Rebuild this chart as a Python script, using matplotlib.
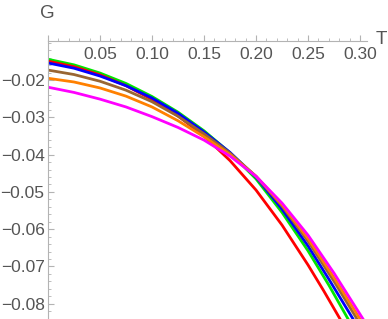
import matplotlib
matplotlib.use("Agg")
import matplotlib.pyplot as plt
from matplotlib.ticker import MultipleLocator, FuncFormatter, FixedLocator

# values (G vs T)
T_green = [0.0, 0.025, 0.05, 0.075, 0.10, 0.125, 0.15, 0.175, 0.20, 0.225, 0.25, 0.27, 0.2885]
G_green = [-0.0144, -0.0159, -0.0181, -0.0209, -0.0244, -0.0286, -0.0336, -0.0395,
           -0.0465, -0.0555, -0.0658, -0.0750, -0.0841]

T_red = [0.0, 0.025, 0.05, 0.075, 0.10, 0.125, 0.15, 0.175, 0.20, 0.225, 0.25, 0.265, 0.2808]
G_red = [-0.0149, -0.0164, -0.0186, -0.0215, -0.0252, -0.0296, -0.0350, -0.0416,
         -0.0495, -0.0589, -0.0696, -0.0765, -0.0841]

T_blue = [0.0, 0.025, 0.05, 0.075, 0.10, 0.125, 0.15, 0.175, 0.20, 0.225, 0.25, 0.27, 0.2933]
G_blue = [-0.0154, -0.0168, -0.0189, -0.0215, -0.0248, -0.0289, -0.0339, -0.0394,
          -0.0460, -0.0546, -0.0645, -0.0734, -0.0841]

T_brown = [0.0, 0.025, 0.05, 0.075, 0.10, 0.125, 0.15, 0.175, 0.20, 0.225, 0.25, 0.275, 0.2971]
G_brown = [-0.0173, -0.0185, -0.0203, -0.0227, -0.0258, -0.0297, -0.0344, -0.0396,
           -0.0458, -0.0538, -0.0632, -0.0740, -0.0841]

T_orange = [0.0, 0.025, 0.05, 0.075, 0.10, 0.125, 0.15, 0.175, 0.20, 0.225, 0.25, 0.275, 0.3000]
G_orange = [-0.0195, -0.0205, -0.0221, -0.0243, -0.0272, -0.0309, -0.0352, -0.0400,
            -0.0458, -0.0534, -0.0625, -0.0730, -0.0841]

T_magenta = [0.0, 0.025, 0.05, 0.075, 0.10, 0.125, 0.15, 0.175, 0.20, 0.225, 0.25, 0.275, 0.3029]
G_magenta = [-0.0219, -0.0233, -0.0251, -0.0272, -0.0298, -0.0327, -0.0361, -0.0404,
             -0.0458, -0.0530, -0.0616, -0.0718, -0.0841]

curves = [
    (T_green, G_green, "#00e600"),
    (T_red, G_red, "#ff0000"),
    (T_blue, G_blue, "#0000ff"),
    (T_brown, G_brown, "#996633"),
    (T_orange, G_orange, "#ff8000"),
    (T_magenta, G_magenta, "#ff00ff"),
]

y_ticks = [-0.02, -0.03, -0.04, -0.05, -0.06, -0.07, -0.08]

plt.rcParams['font.family'] = ['Liberation Sans', 'DejaVu Sans']

fig = plt.figure(figsize=(3.88, 3.19), dpi=100)
ax = fig.add_axes([48 / 388, 0.0, (367 - 48) / 388, (319 - 41) / 319])

for t, g, c in curves:
    ax.plot(t, g, color=c, lw=2.0, solid_joinstyle='round')

ax.set_xlim(0, 0.3067)
ax.set_ylim(-0.0841, -0.0095)

axis_grey = "#b3b3b3"
text_grey = "#555555"

for s in ['top', 'right']:
    ax.spines[s].set_visible(False)
ax.spines['bottom'].set_position(('data', -0.0095))
ax.spines['left'].set_position(('data', 0.0))
ax.spines['bottom'].set_color(axis_grey)
ax.spines['left'].set_color(axis_grey)

ax.xaxis.set_major_locator(MultipleLocator(0.05))
ax.xaxis.set_minor_locator(MultipleLocator(0.01))
ax.yaxis.set_major_locator(FixedLocator(y_ticks))
ax.yaxis.set_minor_locator(MultipleLocator(0.002))

ax.xaxis.set_major_formatter(FuncFormatter(lambda v, p: "" if abs(v) < 1e-9 else f"{v:.2f}"))
ax.yaxis.set_major_formatter(FuncFormatter(lambda v, p: f"{v:.2f}".replace("-", "\u2212")))

ax.tick_params(axis='x', which='both', direction='in', colors=axis_grey,
               labelcolor=text_grey, labelsize=12.5, pad=4)
ax.tick_params(axis='x', which='major', length=4, width=0.8)
ax.tick_params(axis='x', which='minor', length=2.5, width=0.6)
ax.tick_params(axis='y', which='both', direction='in', colors=axis_grey,
               labelcolor=text_grey, labelsize=12.5, pad=2.5)
ax.tick_params(axis='y', which='major', length=4, width=0.8)
ax.tick_params(axis='y', which='minor', length=2.5, width=0.6)

fig.text(47 / 388, 1 - 13 / 319, "G", color=text_grey, fontsize=13.5,
         ha='center', va='center')
fig.text(381 / 388, 1 - 40 / 319, "T", color=text_grey, fontsize=13.5,
         ha='center', va='center')

fig.savefig("out.png", dpi=100)
